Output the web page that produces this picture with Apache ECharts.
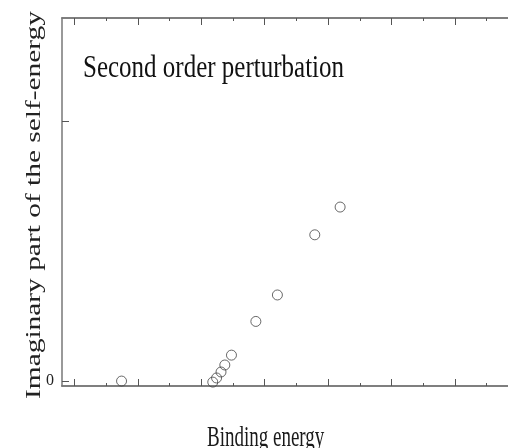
<!DOCTYPE html>
<html>
<head>
<meta charset="utf-8">
<script src="https://cdn.jsdelivr.net/npm/echarts@6/dist/echarts.min.js"></script>
<style>
  html, body { margin: 0; padding: 0; background: #fff; }
  #chart { width: 508px; height: 448px; }
</style>
</head>
<body>
<div id="chart"></div>
<script>
const bindingEnergy = [0.74, 2.18, 2.24, 2.31, 2.37, 2.475, 2.86, 3.2, 3.79, 4.19];
const imaginaryPart = [0.0, -0.004, 0.012, 0.035, 0.062, 0.1, 0.23, 0.332, 0.564, 0.671];
const xMajorTicks = [0, 1, 2, 3, 4, 5, 6];
const xMinorTicks = [0.5, 1.5, 2.5, 3.5, 4.5, 5.5, 6.5];
const yTicks = [0, 1];
const yLabels = [0];

const points = bindingEnergy.map((x, i) => [x, imaginaryPart[i]]);

const frameColor = "#777";
const serif = "'Liberation Serif', 'DejaVu Serif', serif";

function xAxisFor(position, ticks, length) {
  return {
    type: "value",
    position: position,
    min: -0.2,
    max: 6.84,
    axisLine: { show: true, onZero: false, lineStyle: { color: frameColor, width: 1.5 } },
    axisTick: {
      show: true,
      inside: true,
      length: length,
      customValues: ticks,
      lineStyle: { color: "#555", width: 1 },
    },
    axisLabel: { show: false },
    splitLine: { show: false },
  };
}

// the source picture is stretched vertically, so its text is too
function stretchedText(x, y, text, style, transform) {
  return Object.assign({ type: "text", x: x, y: y, style: Object.assign({ text: text }, style) }, transform);
}

const option = {
  animation: false,
  backgroundColor: "#fff",
  grid: { left: 62, top: 18, right: 0, bottom: 62 },
  xAxis: [
    xAxisFor("bottom", xMajorTicks, 7),
    xAxisFor("bottom", xMinorTicks, 3),
    xAxisFor("top", xMajorTicks, 7),
    xAxisFor("top", xMinorTicks, 3),
  ],
  yAxis: {
    type: "value",
    min: -0.019,
    max: 1.4,
    axisLine: { show: true, onZero: false, lineStyle: { color: frameColor, width: 1.5 } },
    axisTick: {
      show: true,
      inside: true,
      length: 7,
      customValues: yTicks,
      lineStyle: { color: "#555", width: 1 },
    },
    axisLabel: {
      customValues: yLabels,
      fontFamily: serif,
      fontSize: 16,
      color: "#222",
      margin: 8,
    },
    splitLine: { show: false },
  },
  graphic: [
    stretchedText(83, 52, "Second order perturbation",
      { font: "25px " + serif, fill: "#111", textBaseline: "top" },
      { scaleY: 1.3 }),
    stretchedText(207, 424, "Binding energy",
      { font: "19px " + serif, fill: "#1a1a1a", textBaseline: "top" },
      { scaleY: 1.5 }),
    stretchedText(24, 205, "Imaginary part of the self-energy",
      { font: "21px " + serif, fill: "#222", textAlign: "center", textBaseline: "middle" },
      { rotation: Math.PI / 2, scaleX: 1.4 }),
  ],
  series: [
    {
      type: "scatter",
      xAxisIndex: 0,
      data: points,
      symbol: "circle",
      symbolSize: 10,
      itemStyle: { color: "rgba(255,255,255,0)", borderColor: "#444", borderWidth: 1 },
    },
  ],
};

const chart = echarts.init(document.getElementById("chart"));
chart.setOption(option);
</script>
</body>
</html>
